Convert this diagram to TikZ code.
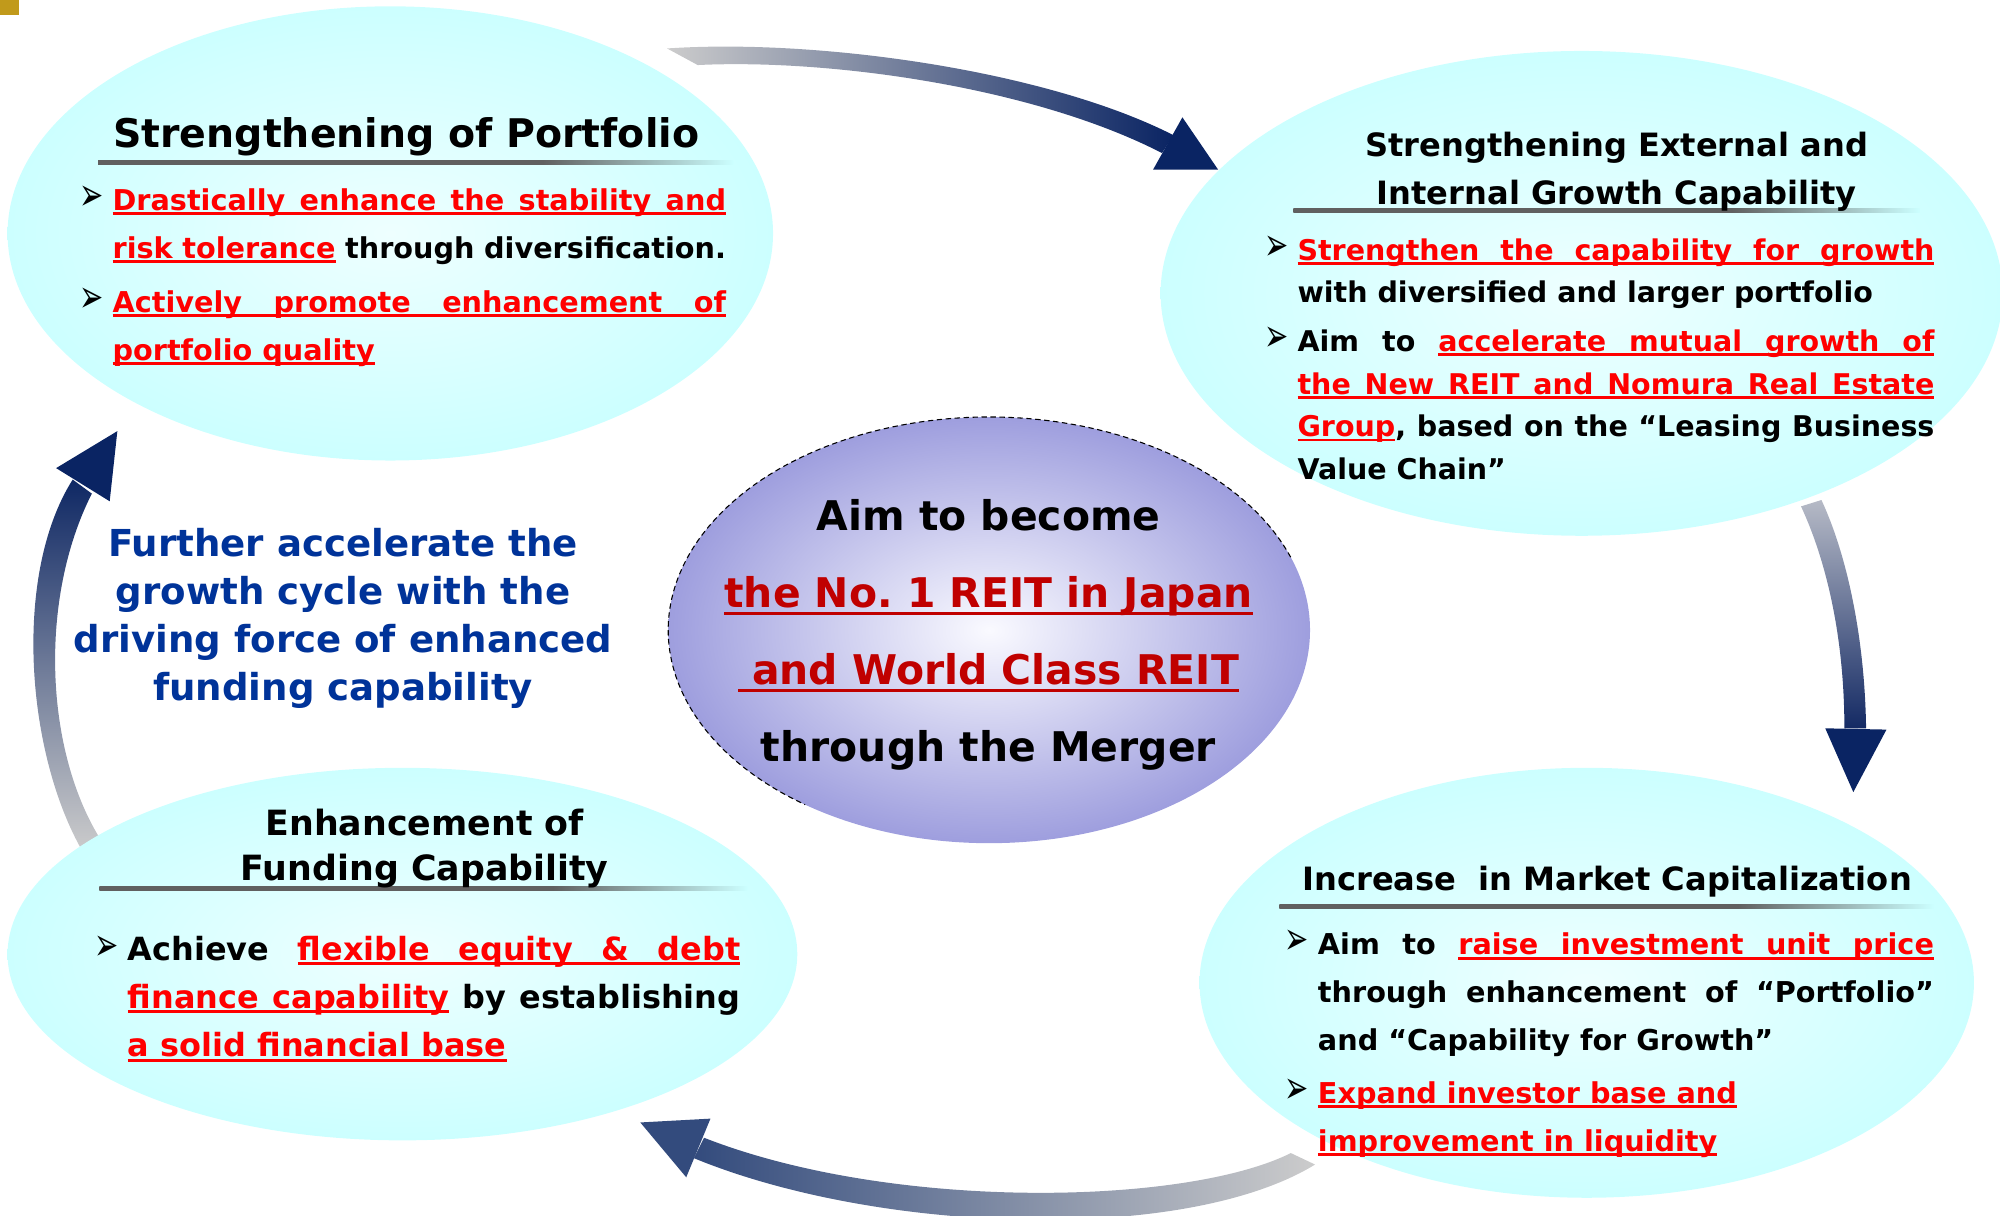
\documentclass[tikz,border=0pt]{standalone}
\usepackage{fontspec}
\setmainfont{DejaVu Sans}
\usepackage{graphicx}
\usetikzlibrary{shapes.geometric}

\definecolor{cyanbord}{RGB}{204,255,255}
\definecolor{cyancentre}{RGB}{238,255,255}
\definecolor{violetbord}{RGB}{158,158,222}
\definecolor{violetcentre}{RGB}{250,250,255}
\definecolor{rouge}{RGB}{255,0,0}
\definecolor{rougefonce}{RGB}{192,0,0}
\definecolor{bleu}{RGB}{0,51,153}
\definecolor{marine}{RGB}{10,36,99}
\definecolor{grisfl}{RGB}{204,204,204}
\definecolor{barre}{RGB}{96,96,96}
\definecolor{or}{RGB}{193,154,27}
\definecolor{milieuh}{RGB}{150,158,178}
\definecolor{hautd}{RGB}{182,186,198}
\definecolor{basd}{RGB}{20,42,100}
\definecolor{teteb}{RGB}{51,75,125}
\definecolor{milieub}{RGB}{190,192,200}
\definecolor{hautg}{RGB}{15,40,100}
\definecolor{milieug}{RGB}{135,145,168}

\pgfdeclarehorizontalshading{barrefondu}{100bp}{color(0bp)=(barre); color(25bp)=(barre);
  color(60bp)=(barre); color(75bp)=(cyanbord); color(100bp)=(cyanbord)}

\tolerance=9999
\makeatletter
\newdimen\uld \uld=1.1pt
\def\ult{1.5pt}
\newcommand{\ulboite}[1]{\setbox\z@\hbox{#1}%
  \rlap{\vrule height -\uld depth \dimexpr\uld+\ult\relax width \wd\z@}\box\z@}
\newcommand{\ulespace}{\leaders\vrule height -\uld depth \dimexpr\uld+\ult\relax
  \hskip\fontdimen2\font plus\fontdimen3\font minus\fontdimen4\font\relax}
\newcommand{\souligner}[1]{\ulmot#1 \@nil}
\def\ulmot#1 #2\@nil{\ulboite{#1}\if\relax\detokenize{#2}\relax\else\ulespace\ulmot#2\@nil\fi}
\makeatother
\newcommand{\souligne}[1]{{\color{rouge}\souligner{#1}}}
\newcommand{\puce}{\noindent\hangindent=0.65cm\hangafter=1%
  \makebox[0.65cm][l]{\scalebox{0.85}[1.35]{\fontsize{19}{19}\selectfont\mdseries\char"27A2}}}

\begin{document}
\begin{tikzpicture}[x=0.025cm,y=-0.025cm]
\tikzstyle{bulle}=[ellipse,inner sep=0pt,inner color=cyancentre,outer color=cyanbord]
\tikzstyle{coeur}=[ellipse,inner sep=0pt,inner color=violetcentre,outer color=violetbord]
\tikzstyle{titre}=[inner sep=0pt,anchor=base,align=center]
\tikzstyle{corps}=[inner sep=0pt,anchor=base west,align=justify]

\useasboundingbox (0,0) rectangle (1568,953);
\fill[or] (0,0) rectangle (15,12);

% fleches du cycle
\shade[left color=grisfl,middle color=milieuh,right color=marine]
  (523,38) .. controls (640,30) and (820,55) .. (920,106) -- (911,120)
  .. controls (810,68) and (650,46) .. (547,51) -- cycle;
\fill[marine] (927,92) -- (955,133) -- (904,133) -- cycle;

\shade[top color=hautd,bottom color=basd]
  (1412,397) .. controls (1432,440) and (1446,500) .. (1446,571) -- (1463,571)
  .. controls (1462,500) and (1448,435) .. (1428,392) -- cycle;
\fill[marine] (1431,571) -- (1479,572) -- (1453,621) -- cycle;

\shade[left color=teteb,middle color=milieub,right color=grisfl]
  (1012,904) .. controls (930,945) and (700,950) .. (552,892) -- (544,908)
  .. controls (690,968) and (930,975) .. (1031,913) -- cycle;
\fill[teteb] (502,880) -- (557,877) -- (538,923) -- cycle;

\shade[top color=hautg,middle color=milieug,bottom color=grisfl]
  (65,668) .. controls (20,590) and (10,450) .. (57,376) -- (72,387)
  .. controls (30,470) and (35,590) .. (80,660) -- cycle;
\fill[marine] (44,367) -- (92,338) -- (86,393) -- cycle;

% bulles
\node[bulle,minimum width=15cm,minimum height=8.9cm] (portefeuille) at (306,183) {};
\node[bulle,minimum width=16.5cm,minimum height=9.5cm] (croissance) at (1240,230) {};
\node[bulle,minimum width=15.475cm,minimum height=7.3cm] (financement) at (315.5,748) {};
\node[bulle,minimum width=15.175cm,minimum height=8.425cm] (capitalisation) at (1244,770.5) {};
\node[coeur,minimum width=12.575cm,minimum height=8.35cm] (but) at (775.5,494) {};
\draw[densely dashed,line width=0.6pt]
  ([shift={(20:6.2875cm and 4.175cm)}]but.center)
  arc[start angle=20,end angle=235,x radius=6.2875cm,y radius=4.175cm];

% barres sous les titres
\foreach \xa/\xc/\yb in {77/575/127.5,1014/1505/165,78/586/696.4,1003/1516/710.8}
  \shade[shading=barrefondu] (\xa,\yb-1.4) rectangle (\xc,\yb+1.4);

% titres (ancre sur la derniere ligne)
\node[titre,font=\bfseries\fontsize{22}{26}\selectfont] (t1) at (318.5,116) {Strengthening of Portfolio};
\node[titre,font=\bfseries\fontsize{17.9}{26.8}\selectfont] (t2) at (1267.5,160.7) {Strengthening External and\\Internal Growth Capability};
\node[titre,font=\bfseries\fontsize{19.4}{25.1}\selectfont] (t3) at (333,690) {Enhancement of\\Funding Capability};
\node[titre,font=\bfseries\fontsize{17.9}{22}\selectfont] (t4) at (1260,697.8) {Increase\ \ in Market Capitalization};

% textes
\node[corps,text width=12.67cm,font=\bfseries\fontsize{16}{26.7}\selectfont] (c1) at (62,165)
  {\puce\souligne{Drastically enhance the stability and}\linebreak
   \souligne{risk tolerance} through diversification.\par\vspace{3.4pt}
   \puce\souligne{Actively promote enhancement of}\linebreak
   \souligne{portfolio quality}\par};
\node[corps,text width=13.13cm,font=\bfseries\fontsize{15.9}{23.8}\selectfont] (c2) at (991,204)
  {\puce\souligne{Strengthen the capability for growth}\linebreak
   with diversified and larger portfolio\par\vspace{3.2pt}
   \puce Aim to \souligne{accelerate mutual growth of}\linebreak
   \souligne{the New REIT and Nomura Real Estate}\linebreak
   \souligne{Group}, based on the “Leasing Business\linebreak
   Value Chain”\par};
\node[corps,text width=12.65cm,font=\bfseries\fontsize{17.8}{27}\selectfont] (c3) at (74,752.7)
  {\puce Achieve \souligne{flexible equity \& debt}\linebreak
   \souligne{finance capability} by establishing\linebreak
   \souligne{a solid financial base}\par};
\node[corps,text width=12.72cm,font=\bfseries\fontsize{16}{26.5}\selectfont] (c4) at (1007,748.7)
  {\puce Aim to \souligne{raise investment unit price}\linebreak
   through enhancement of “Portfolio”\linebreak
   and “Capability for Growth”\par\vspace{3.3pt}
   \puce\souligne{Expand investor base and}\newline
   \souligne{improvement in liquidity}\par};

\node[titre,font=\bfseries\fontsize{22.8}{43}\selectfont] (objectif) at (775,597)
  {Aim to become\\
   {\uld=2.6pt\def\ult{1.8pt}\color{rougefonce}\souligner{the No. 1 REIT in Japan}}\\
   {\uld=2.6pt\def\ult{1.8pt}\color{rougefonce}\null\ulespace\souligner{and World Class REIT}}\\
   through the Merger};

\node[titre,text=bleu,font=\bfseries\fontsize{20.7}{26.7}\selectfont] (cycle) at (269,548.8)
  {Further accelerate the\\growth cycle with the\\driving force of enhanced\\funding capability};
\end{tikzpicture}
\end{document}
